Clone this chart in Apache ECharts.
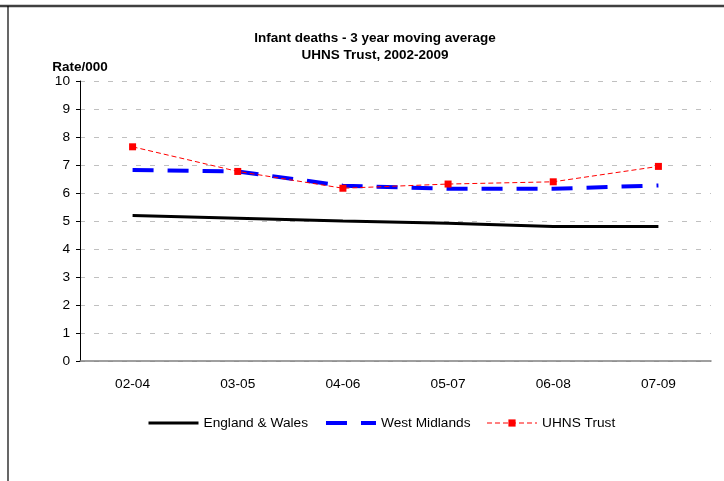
<!DOCTYPE html>
<html>
<head>
<meta charset="utf-8">
<script src="https://cdn.jsdelivr.net/npm/echarts@6/dist/echarts.min.js"></script>
<style>
  html, body { margin: 0; padding: 0; background: #fff; }
  #chart { width: 724px; height: 481px; }
</style>
</head>
<body>
<div id="chart"></div>
<script>
// data
var periods = ['02-04', '03-05', '04-06', '05-07', '06-08', '07-09'];
var englandWales = [5.2, 5.1, 5.0, 4.92, 4.8, 4.8];
var westMidlands = [6.82, 6.77, 6.26, 6.15, 6.15, 6.27];
var uhnsTrust = [7.65, 6.77, 6.17, 6.32, 6.4, 6.95];

var chart = echarts.init(document.getElementById('chart'));
var font = 'Liberation Sans, Arial, sans-serif';

var option = {
  animation: false,
  backgroundColor: '#fff',
  title: {
    text: 'Infant deaths - 3 year moving average\nUHNS Trust, 2002-2009',
    left: 370,
    top: 25,
    textAlign: 'center',
    textStyle: { fontFamily: font, fontSize: 13.5, fontWeight: 'bold', color: '#000', lineHeight: 17 }
  },
  legend: {
    left: 142,
    top: 411,
    itemWidth: 50,
    itemHeight: 9,
    itemGap: 16,
    textStyle: { fontFamily: font, fontSize: 13.7, color: '#000' },
    data: [
      { name: 'England & Wales', itemStyle: { opacity: 0 }, lineStyle: { width: 3 } },
      { name: 'West Midlands', itemStyle: { opacity: 0 }, lineStyle: { width: 4 } },
      { name: 'UHNS Trust', lineStyle: { width: 1 } }
    ]
  },
  grid: { left: 80, right: 13, top: 81, bottom: 120 },
  xAxis: {
    type: 'category',
    data: periods,
    boundaryGap: true,
    axisLine: { lineStyle: { color: '#808080', width: 1.5 } },
    axisTick: { length: 5, lineStyle: { color: '#000' } },
    axisLabel: { fontFamily: font, fontSize: 13.7, color: '#000', margin: 16 }
  },
  yAxis: {
    type: 'value',
    name: 'Rate/000',
    nameLocation: 'end',
    nameGap: 7,
    nameTextStyle: { fontFamily: font, fontSize: 13.5, fontWeight: 'bold', color: '#000', align: 'center' },
    min: 0,
    max: 10,
    interval: 1,
    axisLine: { show: true, lineStyle: { color: '#000' } },
    axisTick: { show: true, length: 4, lineStyle: { color: '#000' } },
    axisLabel: { fontFamily: font, fontSize: 13.7, color: '#000', margin: 10 },
    splitLine: { lineStyle: { color: '#c0c0c0', type: [5, 9] } }
  },
  series: [
    {
      name: 'England & Wales',
      type: 'line',
      data: englandWales,
      symbol: 'none',
      color: '#000',
      lineStyle: { color: '#000', width: 3 }
    },
    {
      name: 'West Midlands',
      type: 'line',
      data: westMidlands,
      symbol: 'none',
      color: '#0000ff',
      lineStyle: { color: '#0000ff', width: 4, type: [21, 14] }
    },
    {
      name: 'UHNS Trust',
      type: 'line',
      data: uhnsTrust,
      symbol: 'rect',
      symbolSize: 7,
      color: '#ff0000',
      itemStyle: { color: '#ff0000' },
      lineStyle: { color: '#ff0000', width: 1, type: [5, 3] }
    }
  ],
  graphic: [
    { type: 'line', shape: { x1: 0, y1: 6, x2: 724, y2: 6 }, style: { stroke: '#404040', lineWidth: 2.5 } },
    { type: 'line', shape: { x1: 8, y1: 6, x2: 8, y2: 481 }, style: { stroke: '#000', lineWidth: 1.2 } }
  ]
};

chart.setOption(option);
</script>
</body>
</html>
